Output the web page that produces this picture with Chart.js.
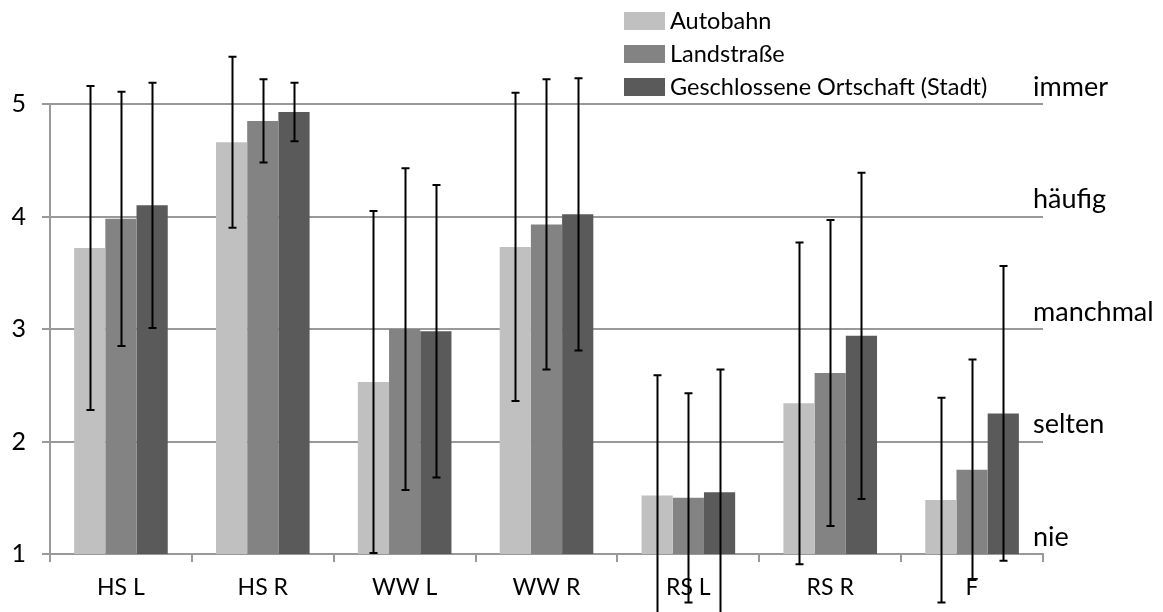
<!DOCTYPE html>
<html>
<head>
<meta charset="utf-8">
<script src="https://cdn.jsdelivr.net/npm/chart.js@4"></script>
<style>
  body { margin: 0; background: #fff; }
  #wrap { width: 1163px; height: 612px; }
</style>
</head>
<body>
<div id="wrap"><canvas id="chart" width="1163" height="612"></canvas></div>
<script>
// categories and series (mean values with standard deviation)
var categories = ["HS L", "HS R", "WW L", "WW R", "RS L", "RS R", "F"];
var seriesNames = ["Autobahn", "Landstraße", "Geschlossene Ortschaft (Stadt)"];
var autobahn = [3.72, 4.66, 2.53, 3.73, 1.52, 2.34, 1.48];
var landstrasse = [3.98, 4.85, 3.00, 3.93, 1.50, 2.61, 1.75];
var stadt = [4.10, 4.93, 2.98, 4.02, 1.55, 2.94, 2.25];
var autobahnSd = [1.44, 0.76, 1.52, 1.37, 1.07, 1.43, 0.91];
var landstrasseSd = [1.13, 0.37, 1.43, 1.29, 0.93, 1.36, 0.98];
var stadtSd = [1.09, 0.26, 1.30, 1.21, 1.09, 1.45, 1.31];
var rightValues = [1, 2, 3, 4, 5];
var rightLabels = ["nie", "selten", "manchmal", "häufig", "immer"];

var FONT = "Lato";
var colors = ["#c0c0c0", "#838383", "#5a5a5a"];

// error bars (mean +/- sd), drawn outside the chart area too
var errorBars = {
  id: "errorBars",
  afterDatasetsDraw: function(chart) {
    var ctx = chart.ctx;
    var y = chart.scales.y;
    ctx.save();
    ctx.strokeStyle = "#000";
    ctx.lineWidth = 2;
    chart.data.datasets.forEach(function(ds, i) {
      var meta = chart.getDatasetMeta(i);
      meta.data.forEach(function(bar, j) {
        var top = y.getPixelForValue(ds.data[j] + ds.sd[j]);
        var bottom = y.getPixelForValue(ds.data[j] - ds.sd[j]);
        var x = Math.round(bar.x) + 0.5;
        ctx.beginPath();
        ctx.moveTo(x, top);
        ctx.lineTo(x, bottom);
        ctx.moveTo(x - 4, top);
        ctx.lineTo(x + 4, top);
        ctx.moveTo(x - 4, bottom);
        ctx.lineTo(x + 4, bottom);
        ctx.stroke();
      });
    });
    ctx.restore();
  }
};

// legend in the top right, stacked, plus the word labels on the right
var boxLegend = {
  id: "boxLegend",
  afterDraw: function(chart) {
    var ctx = chart.ctx;
    ctx.save();
    ctx.font = "23.5px " + FONT;
    ctx.textBaseline = "middle";
    chart.data.datasets.forEach(function(ds, i) {
      var top = 12 + i * 33;
      ctx.fillStyle = ds.backgroundColor;
      ctx.fillRect(624, top, 41, 18);
      ctx.fillStyle = "#000";
      ctx.fillText(ds.label, 670, top + 9);
    });

    ctx.font = "27px " + FONT;
    var y = chart.scales.y;
    rightValues.forEach(function(v, i) {
      ctx.fillText(rightLabels[i], chart.chartArea.right - 10, y.getPixelForValue(v) - 17);
    });
    ctx.restore();
  }
};

var ctx = document.getElementById("chart").getContext("2d");
var chart = new Chart(ctx, {
  type: "bar",
  data: {
    labels: categories,
    datasets: [
      { label: seriesNames[0], data: autobahn, sd: autobahnSd, backgroundColor: colors[0] },
      { label: seriesNames[1], data: landstrasse, sd: landstrasseSd, backgroundColor: colors[1] },
      { label: seriesNames[2], data: stadt, sd: stadtSd, backgroundColor: colors[2] }
    ]
  },
  options: {
    responsive: false,
    animation: false,
    layout: { padding: { top: 104, left: 0, right: 120, bottom: 0 } },
    datasets: {
      bar: { barPercentage: 1, categoryPercentage: 0.66, borderWidth: 0 }
    },
    plugins: {
      legend: { display: false },
      tooltip: { enabled: false }
    },
    scales: {
      x: {
        grid: { drawOnChartArea: false, drawTicks: true, tickLength: 8, color: "#999", lineWidth: 2, offset: true },
        border: { color: "#999", width: 2 },
        ticks: { color: "#000", font: { family: FONT, size: 23 }, padding: 12 },
        afterFit: function(scale) { scale.height = 58; }
      },
      y: {
        min: 1,
        max: 5,
        grid: { color: "#999", lineWidth: 2, tickLength: 8 },
        border: { color: "#999", width: 2 },
        ticks: { stepSize: 1, color: "#000", font: { family: FONT, size: 25 }, padding: 16 },
        afterFit: function(scale) { scale.width = 50; }
      }
    }
  },
  plugins: [errorBars, boxLegend]
});
</script>
</body>
</html>
